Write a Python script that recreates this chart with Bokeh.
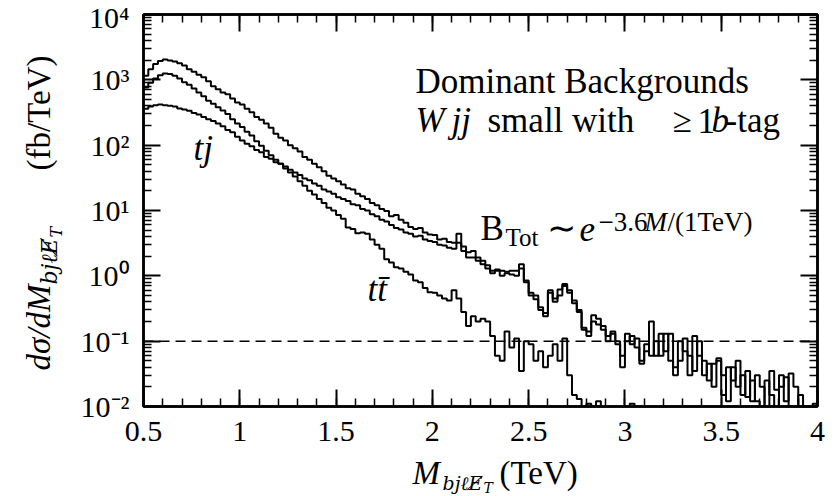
import math
import numpy as np
from bokeh.plotting import figure
from bokeh.layouts import row, column
from bokeh.models import FixedTicker, LinearAxis, LogAxis, Span, Label, Range1d, CustomJSTickFormatter
from bokeh.embed import file_html
from bokeh.resources import INLINE

# ---------------- data ----------------
bin_lo, bin_hi, n_bins = 0.5, 4.0, 140   # histogram binning (TeV), 25 GeV bins

# B_Tot (total background), fb/TeV, one value per bin
total = [
    1150, 1450, 1750, 1950, 2050, 1980, 1900, 1800, 1650, 1450, 1330, 1200, 1100, 950,
    800, 720, 640, 600, 520, 450, 420, 360, 320, 270, 245, 215, 185, 150,
    130, 118, 100, 90, 80, 66, 60, 52, 46, 40, 34, 31, 28, 25,
    22, 21, 18, 16.5, 15, 13, 12, 10.5, 9.8, 8.2, 8.5, 7.2, 6.5, 5.6,
    5.2, 5.4, 4.6, 4.3, 4.2, 3.6, 3.7, 3.3, 3.2, 4.4, 2.8, 2.3, 2.4, 1.9,
    1.7, 1.45, 1.2, 1.25, 1.2, 1.15, 1.2, 1.2, 1.5, 0.85, 0.55, 0.5, 0.33, 0.27,
    0.6, 0.45, 0.62, 0.75, 0.6, 0.42, 0.3, 0.16, 0.14, 0.25, 0.22, 0.17, 0.12, 0.14,
    0.1, 0.06, 0.13, 0.09, 0.11, 0.05, 0.07, 0.2, 0.06, 0.13, 0.07, 0.13, 0.04, 0.05,
    0.11, 0.03, 0.12, 0.06, 0.05, 0.025, 0.045, 0.055, 0.015, 0.04, 0.025, 0.05, 0.015, 0.035,
    0.012, 0.03, 0.02, 0.008, 0.035, 0.018, 0.03, 0.012, 0.032, 0.02, 0.006, 0.002, 0.002, 0.011,
]

# t tbar background
ttbar = [
    760, 900, 1050, 1180, 1250, 1230, 1150, 1050, 920, 840, 740, 640, 560, 480,
    430, 380, 340, 300, 250, 215, 190, 160, 140, 115, 98, 82, 70, 60,
    52, 44, 38, 33, 28, 24, 20, 17.5, 15, 13, 11, 10, 8.5, 7.5,
    5.5, 5.2, 4.5, 4.6, 4.4, 3.6, 3.0, 2.6, 1.8, 1.6, 1.35, 1.3, 1.15, 1.05,
    0.85, 0.8, 0.65, 0.56, 0.55, 0.5, 0.45, 0.42, 0.6, 0.45, 0.28, 0.17, 0.24, 0.2,
    0.22, 0.2, 0.12, 0.06, 0.05, 0.14, 0.08, 0.11, 0.035, 0.1, 0.09, 0.05, 0.07, 0.04,
    0.06, 0.09, 0.05, 0.11, 0.03, 0.015, 0.013, 0.006, 0.011, 0.004, 0.012, 0.001, 0.001, 0.001,
    0.001, 0.001, 0.001, 0.011, 0.001, 0.001, 0.001, 0.001, 0.001, 0.001, 0.001, 0.001, 0.001, 0.001,
    0.001, 0.001, 0.001, 0.001, 0.001, 0.001, 0.001, 0.001, 0.001, 0.001, 0.001, 0.001, 0.001, 0.001,
    0.001, 0.001, 0.001, 0.001, 0.001, 0.001, 0.001, 0.001, 0.001, 0.001, 0.001, 0.001, 0.001, 0.001,
]

# single top (tj) background
tj = [
    360, 390, 410, 420, 410, 400, 390, 365, 350, 335, 310, 295, 270, 250,
    235, 215, 195, 170, 158, 135, 118, 105, 96, 84, 78, 66, 62, 55,
    52, 47, 42, 38, 35, 31, 29, 26, 24, 21, 19.5, 18, 16, 15,
    14, 12.5, 12, 10.5, 10, 8.8, 8.2, 7.2, 6.8, 6.0, 5.4, 5.1, 4.6, 4.4,
    4.0, 4.1, 3.6, 3.4, 3.3, 3.0, 2.9, 2.7, 2.6, 3.2, 2.4, 1.9, 1.9, 1.7,
    1.5, 1.3, 1.1, 1.2, 1.0, 1.1, 1.05, 1.0, 1.3, 0.8, 0.5, 0.44, 0.3, 0.24,
    0.55, 0.4, 0.5, 0.7, 0.55, 0.38, 0.28, 0.15, 0.12, 0.2, 0.18, 0.15, 0.1, 0.13,
    0.09, 0.04, 0.1, 0.12, 0.08, 0.045, 0.09, 0.06, 0.1, 0.06, 0.13, 0.05, 0.03, 0.1,
    0.07, 0.06, 0.035, 0.1, 0.03, 0.045, 0.02, 0.05, 0.03, 0.012, 0.04, 0.02, 0.03, 0.014,
    0.025, 0.012, 0.004, 0.025, 0.015, 0.005, 0.02, 0.028, 0.01, 0.004, 0.015, 0.003, 0.001, 0.001,
]

ref_level = 0.1   # dashed reference line (fb/TeV)

x_ticks = [0.5, 1.0, 1.5, 2.0, 2.5, 3.0, 3.5, 4.0]
x_tick_labels = ["0.5", "1", "1.5", "2", "2.5", "3", "3.5", "4"]
y_decades = [-2, -1, 0, 1, 2, 3, 4]
y_tick_labels = ["10\u207b\u00b2", "10\u207b\u00b9", "10\u2070", "10\u00b9", "10\u00b2", "10\u00b3", "10\u2074"]

# ---------------- layout (canvas pixels of the 840x496 page) ----------------
W, H = 840, 496
YW = 70                 # width of the strip holding the y-axis title
MH = 452                # height of the main plot (rest holds the x-axis title)
FL, FR, FT, FB = 143, 817, 14, 406   # frame edges in page px
FONT = "Liberation Serif"
SUBFONT = "DejaVu Serif"
BASE_K = 0.28           # label anchor to glyph baseline offset (fraction of font size)

edges = np.linspace(bin_lo, bin_hi, n_bins + 1)
y_ticks = [10.0 ** e for e in y_decades]
y_minor = [m * 10.0 ** e for e in y_decades[:-1] for m in range(2, 10)]
x_minor = [round(bin_lo + 0.1 * k, 2) for k in range(int(round((bin_hi - bin_lo) / 0.1)) + 1)]

p = figure(width=W - YW, height=MH, y_axis_type="log",
           x_range=Range1d(bin_lo, bin_hi), y_range=Range1d(y_ticks[0], y_ticks[-1]),
           output_backend="svg", toolbar_location=None,
           min_border_left=FL - YW, min_border_right=W - FR,
           min_border_top=FT, min_border_bottom=MH - FB)
p.frame_align = False
p.grid.visible = False
p.outline_line_color = "black"
p.outline_line_width = 2.5
p.background_fill_color = "white"
p.border_fill_color = "white"

xt = FixedTicker(ticks=x_ticks, minor_ticks=x_minor)
yt = FixedTicker(ticks=y_ticks, minor_ticks=y_minor)
blank = CustomJSTickFormatter(code="return ''")


def style_axis(ax, major_len, minor_len):
    ax.axis_line_width = 2.5
    ax.axis_line_color = "black"
    ax.major_tick_in = major_len
    ax.major_tick_out = 0
    ax.minor_tick_in = minor_len
    ax.minor_tick_out = 0
    ax.major_tick_line_width = 2
    ax.minor_tick_line_width = 1.5
    ax.major_tick_line_color = "black"
    ax.minor_tick_line_color = "black"


xa = p.xaxis[0]
xa.ticker = xt
xa.major_label_overrides = dict(zip(x_ticks, x_tick_labels))
xa.major_label_text_font = FONT
xa.major_label_text_font_size = "30px"
xa.major_label_text_color = "black"
xa.major_label_standoff = 15
style_axis(xa, 17, 8)

ya = p.yaxis[0]
ya.ticker = yt
ya.major_label_overrides = dict(zip(y_ticks, y_tick_labels))
ya.major_label_text_font = FONT
ya.major_label_text_font_size = "30px"
ya.major_label_text_color = "black"
ya.major_label_standoff = 14
style_axis(ya, 17, 8)

top = LinearAxis(ticker=xt, formatter=blank, major_label_standoff=0)
style_axis(top, 17, 8)
p.add_layout(top, "above")
right = LogAxis(ticker=yt, formatter=blank, major_label_standoff=0)
style_axis(right, 17, 8)
p.add_layout(right, "right")

# ---------------- histograms ----------------
for series in (total, ttbar, tj):
    p.step(x=list(edges), y=list(series) + [series[-1]], mode="after",
           line_color="black", line_width=2)

p.add_layout(Span(location=ref_level, dimension="width", line_color="black",
                  line_width=1.5, line_dash="10 6"))


# ---------------- texts ----------------
def make_txt(fig, x0, y0):
    """x0, y0: page position of the screen origin (bottom-left of the frame).
    (x, y) given is the page position of the start of the glyph baseline."""
    def txt(x, y, s, size, style="normal", angle=0.0, font=FONT):
        if angle == 0.0:
            y = y - BASE_K * size
        else:
            x = x - BASE_K * size
        fig.add_layout(Label(x=x - x0, y=y0 - y, x_units="screen", y_units="screen",
                             text=s, text_font=font, text_font_size=f"{size}px",
                             text_font_style=style, text_color="black",
                             text_align="left", text_baseline="alphabetic", angle=angle))
    return txt


txt = make_txt(p, FL, FB)
txt(415, 91, "Dominant Backgrounds", 35)
txt(415, 130, "W", 35, "italic")
txt(451, 130, "jj", 35, "italic")
txt(487, 130, "small with", 35)
txt(672, 130, "\u2265", 35)
txt(697, 130, "1", 35)
txt(711, 130, "b", 35, "italic")
txt(725, 130, "-tag", 35)

txt(480, 238, "B", 35)
txt(505, 244, "Tot", 25)
txt(546, 238, "\u223c", 35)
txt(579, 238, "e", 35, "italic")
txt(598, 229, "\u22123.6", 27)
txt(644, 229, "M", 27, "italic")
txt(667, 229, "/(1TeV)", 27)

txt(193, 158, "tj", 35, "italic")
txt(367, 299, "tt\u0304", 35, "italic")


def strip(w, h):
    f = figure(width=w, height=h, x_range=Range1d(0, w), y_range=Range1d(0, h),
               x_axis_location=None, y_axis_location=None, toolbar_location=None,
               output_backend="svg", min_border=0)
    f.frame_align = False
    f.grid.visible = False
    f.outline_line_color = None
    f.background_fill_color = "white"
    f.border_fill_color = "white"
    return f


# x axis title (strip below the main plot)
xf = strip(W, H - MH)
tx = make_txt(xf, 0, H)
tx(412, 482, "M", 33, "italic")
tx(442, 488, "bj\u2113E\u0338", 19, "italic", font=SUBFONT)
tx(483, 491, "T", 14, "italic", font=SUBFONT)
tx(499, 482, "(TeV)", 33)

# y axis title (strip left of the main plot), rotated
yf = strip(YW, MH)
ty = make_txt(yf, 0, MH)
A = math.pi / 2
ty(48, 370, "d\u03c3/dM", 33, "italic", A)
ty(55, 284, "bj\u2113E\u0338", 22, "italic", A, font=SUBFONT)
ty(60, 237, "T", 16, "italic", A, font=SUBFONT)
ty(48, 170, "(fb/TeV)", 33, "normal", A)

layout = column(row(yf, p), xf)
open("out.html", "w").write(file_html(layout, INLINE))
